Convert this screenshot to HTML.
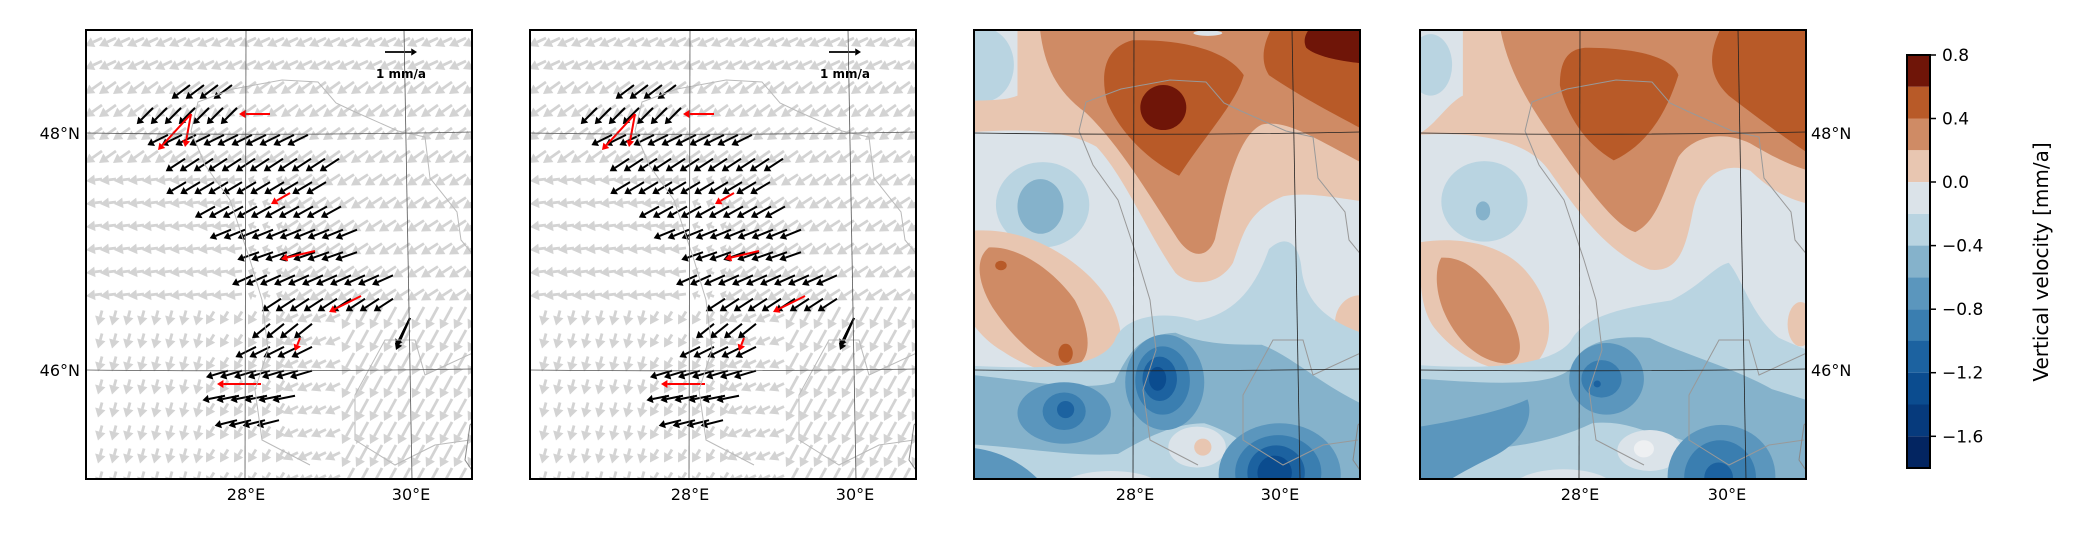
<!DOCTYPE html>
<html><head><meta charset="utf-8"><style>
html,body{margin:0;padding:0;background:#fff;}
svg text{font-family:"DejaVu Sans","Liberation Sans",sans-serif;}
</style></head><body>
<svg id="s" width="2086" height="535" xmlns="http://www.w3.org/2000/svg">
<defs>
<clipPath id="c1"><rect x="86" y="30" width="386" height="449"/></clipPath>
<clipPath id="c2"><rect x="530" y="30" width="386" height="449"/></clipPath>
<clipPath id="c3"><rect x="974" y="30" width="386" height="449"/></clipPath>
<clipPath id="c4"><rect x="1420" y="30" width="386" height="449"/></clipPath>
</defs>
<rect width="2086" height="535" fill="#fff"/>

<!-- Panel 3 contours (zoom2 coords) -->
<g clip-path="url(#c3)">
<g transform="matrix(0.7184,0,0,0.3413,960,0)">
<rect x="0" y="60" width="600" height="1400" fill="#dbe3e9"/>
<ellipse cx="30" cy="190" rx="45" ry="110" fill="#b9d4e1"/>
<path fill="#e8c6b1" d="M80,60 L80,280 C60,300 20,290 0,300 L0,390 C60,380 140,370 190,430 C230,520 260,680 300,800 C320,840 360,840 380,770 C395,680 400,620 450,575 C490,560 530,585 600,600 L600,60 Z"/>
<path fill="#cf8b65" d="M110,60 C115,180 130,260 175,330 C220,420 260,560 300,690 C320,760 345,760 355,700 C370,560 385,400 420,365 C460,345 510,430 600,520 L600,60 Z"/>
<path fill="#b85a28" d="M240,118 C300,115 370,140 395,220 C385,300 340,400 305,515 C270,480 225,400 205,300 C195,220 200,140 240,118 Z"/>
<path fill="#b85a28" d="M440,60 L600,60 L600,430 C560,370 500,320 430,220 C415,170 425,110 440,60 Z"/>
<ellipse cx="283" cy="315" rx="32" ry="66" fill="#6f1508"/>
<path fill="#6f1508" d="M500,60 L600,60 L600,190 C560,190 500,175 482,140 C475,110 485,80 500,60 Z"/>
<ellipse cx="345" cy="97" rx="20" ry="8" fill="#dbe3e9"/>
<ellipse cx="115" cy="600" rx="65" ry="125" fill="#b9d4e1"/>
<ellipse cx="112" cy="605" rx="32" ry="80" fill="#85b2cb"/>
<path fill="#e8c6b1" d="M0,680 C60,660 120,700 170,790 C220,880 240,1000 210,1090 C170,1120 110,1100 60,1030 C20,980 0,900 0,850 Z"/>
<path fill="#cf8b65" d="M40,725 C80,720 130,790 160,880 C185,980 185,1070 150,1080 C110,1070 70,980 45,900 C25,830 20,760 40,725 Z"/>
<ellipse cx="147" cy="1035" rx="10" ry="28" fill="#b85a28"/>
<ellipse cx="57" cy="778" rx="8" ry="14" fill="#b85a28"/>
<ellipse cx="557" cy="945" rx="35" ry="80" fill="#e8c6b1"/>
<path fill="#b9d4e1" d="M0,1070 C100,1080 190,1090 215,1000 C225,930 280,905 330,940 C380,920 410,850 430,730 C450,690 470,700 475,780 C480,900 520,960 600,1000 L600,1460 L0,1460 Z"/>
<path fill="#85b2cb" d="M0,1095 C80,1110 170,1150 215,1120 C235,1030 250,980 300,975 C340,1010 380,1010 420,1010 C470,1050 510,1150 600,1220 L600,1460 L470,1460 C430,1360 400,1280 340,1240 C300,1240 260,1280 220,1330 C160,1340 90,1310 0,1300 Z"/>
<ellipse cx="330" cy="1310" rx="40" ry="60" fill="#dbe3e9"/>
<ellipse cx="338" cy="1310" rx="12" ry="25" fill="#e8c6b1"/>
<ellipse cx="210" cy="1430" rx="70" ry="50" fill="#dbe3e9"/>
<ellipse cx="205" cy="1420" rx="35" ry="20" fill="#e8c6b1"/>
<ellipse cx="145" cy="1210" rx="65" ry="90" fill="#5b96bd"/>
<ellipse cx="145" cy="1205" rx="30" ry="55" fill="#3a7eb0"/>
<ellipse cx="147" cy="1200" rx="12" ry="25" fill="#1c62a0"/>
<path fill="#5b96bd" d="M0,1310 C50,1310 100,1360 130,1460 L0,1460 Z"/>
<ellipse cx="285" cy="1120" rx="55" ry="140" fill="#5b96bd"/>
<ellipse cx="282" cy="1115" rx="38" ry="100" fill="#3a7eb0"/>
<ellipse cx="278" cy="1110" rx="24" ry="65" fill="#1c62a0"/>
<ellipse cx="275" cy="1110" rx="12" ry="35" fill="#0b4c8f"/>
<ellipse cx="445" cy="1390" rx="85" ry="150" fill="#5b96bd"/>
<ellipse cx="443" cy="1385" rx="60" ry="110" fill="#3a7eb0"/>
<ellipse cx="440" cy="1385" rx="40" ry="80" fill="#1c62a0"/>
<ellipse cx="438" cy="1385" rx="24" ry="50" fill="#0b4c8f"/>
</g></g>

<!-- Panel 4 contours -->
<g clip-path="url(#c4)">
<g transform="matrix(0.7184,0,0,0.3413,960,0)">
<rect x="600" y="60" width="620" height="1400" fill="#dbe3e9"/>
<ellipse cx="655" cy="190" rx="30" ry="90" fill="#b9d4e1"/>
<path fill="#e8c6b1" d="M700,60 L700,280 C680,300 660,370 640,390 L640,395 C720,385 790,410 820,500 C860,620 900,740 960,790 C1000,800 1010,730 1020,620 C1030,520 1060,470 1100,500 C1130,560 1160,600 1220,610 L1220,60 Z"/>
<path fill="#cf8b65" d="M750,60 C760,200 790,300 830,420 C870,540 910,660 940,680 C970,650 980,560 1000,460 C1020,400 1060,380 1100,420 C1140,470 1170,500 1220,520 L1220,60 Z"/>
<path fill="#b85a28" d="M870,140 C930,140 990,160 1000,220 C985,320 960,420 910,470 C870,420 845,340 835,250 C835,180 845,145 870,140 Z"/>
<path fill="#b85a28" d="M1065,60 L1220,60 L1220,500 C1170,440 1120,360 1070,280 C1040,220 1040,150 1065,60 Z"/>
<ellipse cx="730" cy="590" rx="60" ry="118" fill="#b9d4e1"/>
<ellipse cx="728" cy="618" rx="10" ry="28" fill="#85b2cb"/>
<path fill="#e8c6b1" d="M640,710 C700,690 760,720 790,800 C830,900 830,1030 790,1085 C740,1100 690,1040 660,960 C640,900 640,820 640,710 Z"/>
<path fill="#cf8b65" d="M670,755 C710,750 740,830 765,920 C785,1000 785,1060 760,1065 C720,1060 690,990 675,920 C662,860 660,790 670,755 Z"/>
<ellipse cx="1170" cy="950" rx="18" ry="65" fill="#e8c6b1"/>
<path fill="#b9d4e1" d="M640,1070 C720,1080 820,1080 850,1000 C870,920 930,900 990,880 C1030,840 1050,780 1070,770 C1090,820 1100,920 1140,990 C1170,1020 1200,1040 1220,1060 L1220,1460 L640,1460 Z"/>
<path fill="#85b2cb" d="M640,1110 C720,1120 820,1140 850,1080 C860,1010 900,980 960,990 C1010,1040 1080,1080 1130,1140 L1220,1200 L1220,1460 L1120,1460 C1060,1340 1030,1300 990,1280 C950,1270 930,1230 880,1240 C840,1280 800,1300 760,1310 C720,1320 680,1330 640,1330 Z"/>
<ellipse cx="960" cy="1320" rx="45" ry="60" fill="#dbe3e9"/>
<ellipse cx="952" cy="1315" rx="14" ry="25" fill="#eef0f2"/>
<ellipse cx="840" cy="1430" rx="70" ry="55" fill="#dbe3e9"/>
<ellipse cx="840" cy="1425" rx="35" ry="22" fill="#e8c6b1"/>
<path fill="#5b96bd" d="M640,1250 C700,1230 760,1200 790,1170 C800,1230 780,1300 740,1340 C700,1380 670,1420 640,1460 Z"/>
<ellipse cx="900" cy="1110" rx="52" ry="105" fill="#5b96bd"/>
<ellipse cx="893" cy="1110" rx="28" ry="55" fill="#3a7eb0"/>
<ellipse cx="887" cy="1125" rx="5" ry="10" fill="#1c62a0"/>
<ellipse cx="1060" cy="1395" rx="75" ry="150" fill="#5b96bd"/>
<ellipse cx="1058" cy="1400" rx="50" ry="110" fill="#3a7eb0"/>
<ellipse cx="1056" cy="1400" rx="20" ry="45" fill="#1c62a0"/>
</g></g>

<g id="arrows"></g>
<g id="overlay"></g>

<!-- colorbar -->
<g>
<rect x="1907" y="55.0" width="23" height="31.8" fill="#6f1508"/>
<rect x="1907" y="86.8" width="23" height="31.8" fill="#b85a28"/>
<rect x="1907" y="118.5" width="23" height="31.8" fill="#cf8b65"/>
<rect x="1907" y="150.3" width="23" height="31.8" fill="#e8c6b1"/>
<rect x="1907" y="182.1" width="23" height="31.8" fill="#dbe3e9"/>
<rect x="1907" y="213.9" width="23" height="31.8" fill="#b9d4e1"/>
<rect x="1907" y="245.6" width="23" height="31.8" fill="#85b2cb"/>
<rect x="1907" y="277.4" width="23" height="31.8" fill="#5b96bd"/>
<rect x="1907" y="309.2" width="23" height="31.8" fill="#3a7eb0"/>
<rect x="1907" y="340.9" width="23" height="31.8" fill="#1c62a0"/>
<rect x="1907" y="372.7" width="23" height="31.8" fill="#0b4c8f"/>
<rect x="1907" y="404.5" width="23" height="31.8" fill="#063a7c"/>
<rect x="1907" y="436.3" width="23" height="31.7" fill="#032561"/>
<rect x="1907" y="55" width="23" height="413" fill="none" stroke="#000" stroke-width="2"/>
<g stroke="#000" stroke-width="1.5">
<line x1="1930" y1="55" x2="1936" y2="55"/><line x1="1930" y1="118.5" x2="1936" y2="118.5"/>
<line x1="1930" y1="182" x2="1936" y2="182"/><line x1="1930" y1="245.6" x2="1936" y2="245.6"/>
<line x1="1930" y1="309.2" x2="1936" y2="309.2"/><line x1="1930" y1="372.7" x2="1936" y2="372.7"/>
<line x1="1930" y1="436.3" x2="1936" y2="436.3"/>
</g>
<g font-size="17" fill="#000">
<text x="1942" y="61">0.8</text><text x="1942" y="124.5">0.4</text>
<text x="1942" y="188">0.0</text><text x="1942" y="251.6">−0.4</text>
<text x="1942" y="315.2">−0.8</text><text x="1942" y="378.7">−1.2</text>
<text x="1942" y="442.3">−1.6</text>
</g>
<text x="2048" y="262" font-size="20" text-anchor="middle" transform="rotate(-90 2048 262)">Vertical velocity [mm/a]</text>
</g>

<!-- tick labels -->
<g font-size="16" fill="#000">
<text x="80" y="139" text-anchor="end">48°N</text>
<text x="80" y="376" text-anchor="end">46°N</text>
<text x="1811" y="139">48°N</text>
<text x="1811" y="376">46°N</text>
<text x="246" y="500" text-anchor="middle">28°E</text><text x="411" y="500" text-anchor="middle">30°E</text>
<text x="690" y="500" text-anchor="middle">28°E</text><text x="855" y="500" text-anchor="middle">30°E</text>
<text x="1135" y="500" text-anchor="middle">28°E</text><text x="1280" y="500" text-anchor="middle">30°E</text>
<text x="1580" y="500" text-anchor="middle">28°E</text><text x="1727" y="500" text-anchor="middle">30°E</text>
</g>
</svg>
<script>
(function(){
var NS="http://www.w3.org/2000/svg";
var A=document.getElementById("arrows"), O=document.getElementById("overlay");
function el(p,t,a){var e=document.createElementNS(NS,t);for(var k in a)e.setAttribute(k,a[k]);p.appendChild(e);return e;}
function arrow(p,x,y,dx,dy,col,w,hwf){
  var L=Math.sqrt(dx*dx+dy*dy); if(L<1)return;
  var ux=dx/L,uy=dy/L, hl=Math.min(w*3.2,L*0.6), hw=w*(hwf||2);
  var bx=x+dx-ux*hl, by=y+dy-uy*hl;
  el(p,"line",{x1:x,y1:y,x2:bx,y2:by,stroke:col,"stroke-width":w});
  el(p,"polygon",{points:(x+dx)+","+(y+dy)+" "+(bx-uy*hw)+","+(by+ux*hw)+" "+(bx+uy*hw)+","+(by-ux*hw),fill:col});
}
function gfield(u,v){
  if(v<150){ return [-17,12-(v<40?4:0)]; }
  if(v<275){ if(u<150) return [-16,2]; if(u<200) return [-8,-3]; return [-17,11]; }
  if(u<110) return [-4,15];
  if(u<200) return [-8,13];
  if(u<260) return [-15,7];
  return [-12,22];
}
var offs=[86,530];
var black=[[92,179,232,-1,0.75],[116,152,237,-1,1.0],[140,161,308,-1,0.5],[165,183,339,-1,0.65],[188,185,326,-1,0.6],[212,203,341,-1,0.55],[234,221,357,-1,0.4],[256,250,357,-1,0.35],[280,252,393,-1,0.45],[305,268,393,-1,0.65],[331,268,312,-1,0.8],[352,243,312,-1,0.5],[374,228,312,-1,0.3],[398,225,295,-1,0.2],[423,237,279,-1,0.25]];
var reds=[[270,114,239,114],[191,114,158,150],[191,114,185,147],[290,193,271,204],[315,251,281,259],[361,296,329,312],[300,338,295,351],[261,384,217,384]];
offs.forEach(function(ox){
  var g=el(A,"g",{"clip-path":"url(#c"+(ox==86?1:2)+")"});
  for(var v=12;v<450;v+=23){
    for(var u=8;u<395;u+=14){
      var d=gfield(u,v);
      arrow(g,ox+u+8,30+v-d[1]/2,d[0],d[1],"#d3d3d3",2.8,1.9);
    }
  }
  black.forEach(function(r){
    for(var x=r[2];x>=r[1];x-=14){
      var L=23, dx=r[3], dy=r[4], n=Math.sqrt(dx*dx+dy*dy);
      arrow(g,x+(ox-86),r[0]-dy/n*L*0.5,dx/n*L,dy/n*L,"#000",2,2.1);
    }
  });
  arrow(g,ox+324,318,-14,28,"#000",2);
  arrow(g,ox+324-86+86+0,318,-14,28,"#000",2);
  arrow(g,ox+410-86,318,-14,32,"#000",2);
  reds.forEach(function(r){arrow(g,r[0]+ox-86,r[1],r[2]-r[0],r[3]-r[1],"#f00",2);});
  arrow(g,ox+299,52,32,0,"#000",1.8);
  var t=el(g,"text",{x:ox+315,y:78,"font-size":"12","font-weight":"bold","text-anchor":"middle"});t.textContent="1 mm/a";
});
var panels=[86,530,974,1420];
panels.forEach(function(px,i){
  var g=el(O,"g",{"clip-path":"url(#c"+(i+1)+")"});
  var s=(px-86);
  var bc=(i<2)?"#bbbbbb":"#999";
  el(g,"path",{d:"M"+(s+191)+",131 L"+(s+198)+",102 L"+(s+233)+",89 L"+(s+282)+",80 L"+(s+318)+",82 L"+(s+336)+",103 L"+(s+353)+",111 L"+(s+398)+",131 L"+(s+425)+",137 L"+(s+430)+",178 L"+(s+457)+",212 L"+(s+461)+",240 L"+(s+488)+",273 L"+(s+492)+",320 L"+(s+505)+",326 L"+(s+490)+",345 L"+(s+425)+",375 L"+(s+415)+",340 L"+(s+385)+",340 L"+(s+355)+",395 L"+(s+355)+",440 L"+(s+395)+",465 L"+(s+435)+",445 L"+(s+470)+",440",fill:"none",stroke:bc,"stroke-width":1});
  el(g,"path",{d:"M"+(s+191)+",131 L"+(s+205)+",165 L"+(s+230)+",200 L"+(s+250)+",260 L"+(s+262)+",300 L"+(s+268)+",350 L"+(s+255)+",390 L"+(s+262)+",440 L"+(s+310)+",465",fill:"none",stroke:bc,"stroke-width":1});
  el(g,"path",{d:"M"+(s+550)+",330 L"+(s+505)+",390 L"+(s+470)+",425 L"+(s+465)+",460 L"+(s+478)+",479",fill:"none",stroke:"#888","stroke-width":1});
  var gc=(i<2)?"#555":"#222";
  el(g,"line",{x1:s+246,y1:30,x2:s+245,y2:479,stroke:gc,"stroke-width":0.8});
  el(g,"line",{x1:s+404,y1:30,x2:s+412,y2:479,stroke:gc,"stroke-width":0.8});
  el(g,"path",{d:"M"+(s+86)+",133 Q"+(s+280)+",136 "+(s+472)+",132",fill:"none",stroke:gc,"stroke-width":0.8});
  el(g,"path",{d:"M"+(s+86)+",370 Q"+(s+280)+",372 "+(s+472)+",369",fill:"none",stroke:gc,"stroke-width":0.8});
  el(O,"rect",{x:px,y:30,width:386,height:449,fill:"none",stroke:"#000","stroke-width":2});
});
})();
</script>
</body></html>
